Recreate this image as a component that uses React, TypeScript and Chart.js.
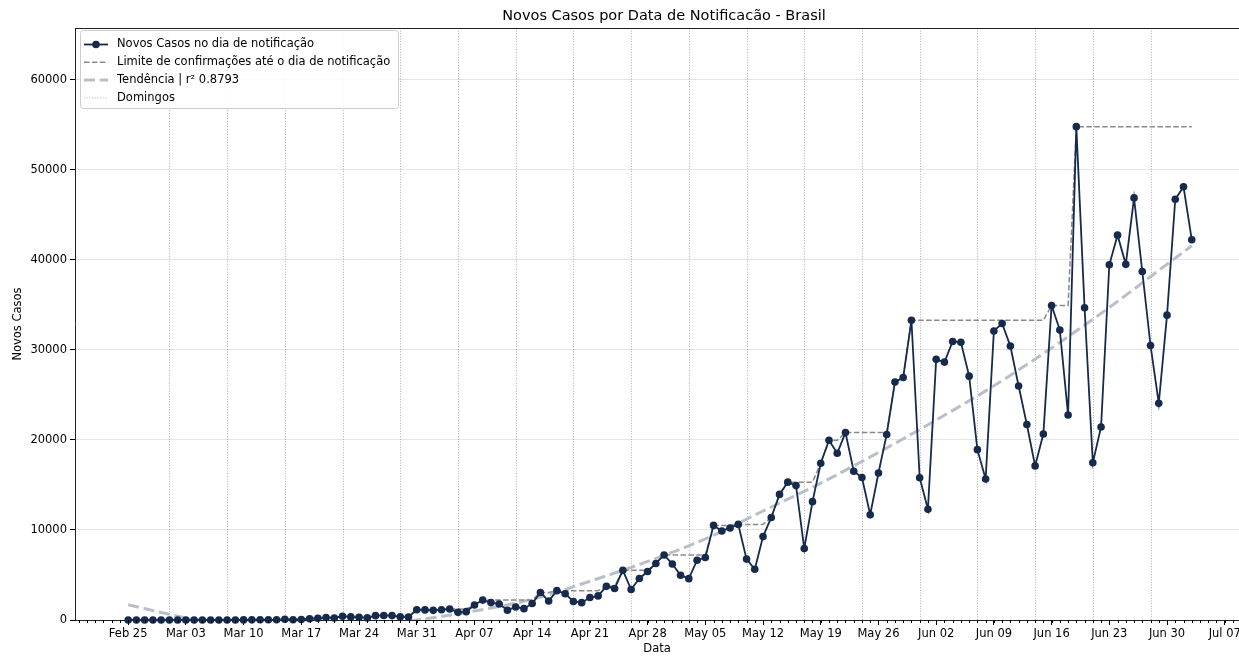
import { useEffect, useRef } from "react";
import { Chart, registerables } from "chart.js";

Chart.register(...registerables);

// ---------- data ----------
const startDate = "2020-02-25";

// New cases per notification day, Feb 25 .. Jul 03 2020 (one value per day)
const newCases: number[] = [
  // Feb 25 - Feb 29
  0, 1, 0, 0, 1,
  // Mar 01 - Mar 31
  0, 0, 0, 1, 5, 5, 6, 6, 0, 9, 18, 25, 21, 23, 79, 34, 57, 137, 193, 283, 224, 418, 345, 310, 232, 482, 502, 487, 352, 323, 1138,
  // Apr 01 - Apr 30
  1119, 1074, 1146, 1222, 852, 926, 1661, 2210, 1930, 1781, 1089, 1442, 1261, 1832, 3058, 2105, 3257, 2917, 2055, 1927, 2498, 2678, 3735, 3503, 5514, 3379, 4613, 5385, 6276, 7218,
  // May 01 - May 31
  6209, 4970, 4588, 6633, 6935, 10503, 9888, 10222, 10611, 6760, 5632, 9258, 11385, 13944, 15305, 14919, 7938, 13140, 17408, 19951, 18508, 20803, 16508, 15813, 11687, 16324, 20599, 26417, 26928, 33274, 15800,
  // Jun 01 - Jun 30
  12300, 28936, 28633, 30925, 30830, 27075, 18912, 15654, 32091, 32913, 30412, 25982, 21704, 17110, 20647, 34918, 32188, 22765, 54771, 34666, 17459, 21432, 39436, 42725, 39483, 46860, 38693, 30476, 24052, 33846,
  // Jul 01 - Jul 03
  46712, 48105, 42223,
];

// Trend curve at a few dates
const trendDates = [
  "2020-02-25", "2020-03-03", "2020-03-10", "2020-03-17", "2020-03-24", "2020-03-31",
  "2020-04-07", "2020-04-14", "2020-04-21", "2020-04-28", "2020-05-05", "2020-05-12",
  "2020-05-19", "2020-05-26", "2020-06-02", "2020-06-09", "2020-06-16", "2020-06-23",
  "2020-06-30", "2020-07-03",
];
const trendValues = [
  1700, 250, -700, -1000, -700, 0,
  1000, 2300, 4300, 6500, 9000, 12100,
  15200, 18600, 22200, 26000, 30200, 34700,
  39500, 41550,
];

const sundays = [
  "2020-03-01", "2020-03-08", "2020-03-15", "2020-03-22", "2020-03-29",
  "2020-04-05", "2020-04-12", "2020-04-19", "2020-04-26",
  "2020-05-03", "2020-05-10", "2020-05-17", "2020-05-24", "2020-05-31",
  "2020-06-07", "2020-06-14", "2020-06-21", "2020-06-28",
];

const xTickLabels = [
  "Feb 25", "Mar 03", "Mar 10", "Mar 17", "Mar 24", "Mar 31", "Apr 07", "Apr 14",
  "Apr 21", "Apr 28", "May 05", "May 12", "May 19", "May 26", "Jun 02", "Jun 09",
  "Jun 16", "Jun 23", "Jun 30", "Jul 07",
];
const yTicks = [0, 10000, 20000, 30000, 40000, 50000, 60000];

const legendLabels = [
  "Novos Casos no dia de notificação",
  "Limite de confirmações até o dia de notificação",
  "Tendência | r² 0.8793",
  "Domingos",
];
const titleText = "Novos Casos por Data de Notificacão - Brasil";
const xTitle = "Data";
const yTitle = "Novos Casos";

// ---------- styles ----------
const FONT = "'DejaVu Sans', 'Liberation Sans', sans-serif";
const NAVY = "#162a4d";
const LIMIT_GRAY = "#8a8a8a";
const TREND = "#b9bfc9";
const SUNDAY = "rgba(150,150,150,0.75)";
const MAIN_DASH: number[] = [];
const LIMIT_DASH = [5.5, 2.4];
const TREND_DASH = [11, 4.8];
const SUNDAY_DASH = [1, 1.65];

function dayIndex(d: string): number {
  const [y, m, dd] = d.split("-").map(Number);
  const [y0, m0, d0] = startDate.split("-").map(Number);
  return Math.round((Date.UTC(y, m - 1, dd) - Date.UTC(y0, m0 - 1, d0)) / 86400000);
}

export default function App() {
  const ref = useRef<HTMLCanvasElement | null>(null);

  useEffect(() => {
    document.body.style.margin = "0";
    const canvas = ref.current;
    if (!canvas) return;

    const mainData = newCases.map((v, i) => ({ x: i, y: v }));
    let running = -Infinity;
    const limitData = newCases.map((v, i) => {
      running = Math.max(running, v);
      return { x: i, y: running };
    });
    const trendData = trendDates.map((d, i) => ({ x: dayIndex(d), y: trendValues[i] }));

    const decor = {
      id: "decor",
      beforeDatasetsDraw(chart: any) {
        const { ctx, chartArea, scales } = chart;
        ctx.save();
        ctx.strokeStyle = SUNDAY;
        ctx.lineWidth = 1;
        ctx.setLineDash(SUNDAY_DASH);
        for (const s of sundays) {
          const x = Math.round(scales.x.getPixelForValue(dayIndex(s))) + 0.5;
          ctx.beginPath();
          ctx.moveTo(x, chartArea.top);
          ctx.lineTo(x, chartArea.bottom);
          ctx.stroke();
        }
        ctx.restore();
      },
      afterDraw(chart: any) {
        const { ctx, chartArea, scales } = chart;
        const xs = scales.x;
        ctx.save();
        // minor daily ticks
        ctx.strokeStyle = "#000";
        ctx.lineWidth = 1;
        for (let d = Math.ceil(xs.min); d <= Math.floor(xs.max); d++) {
          const x = Math.round(xs.getPixelForValue(d)) + 0.5;
          ctx.beginPath();
          ctx.moveTo(x, chartArea.bottom);
          ctx.lineTo(x, chartArea.bottom + 3);
          ctx.stroke();
        }
        // top spine
        ctx.strokeStyle = "#222";
        ctx.beginPath();
        ctx.moveTo(chartArea.left, Math.round(chartArea.top) + 0.5);
        ctx.lineTo(chartArea.right, Math.round(chartArea.top) + 0.5);
        ctx.stroke();

        // title
        ctx.fillStyle = "#000";
        ctx.font = `14.5px ${FONT}`;
        ctx.textAlign = "center";
        ctx.textBaseline = "alphabetic";
        ctx.fillText(titleText, 664, 20);

        // legend
        const bx = 80.5, by = 30.5, bw = 318, bh = 78, r = 3;
        ctx.beginPath();
        ctx.moveTo(bx + r, by);
        ctx.lineTo(bx + bw - r, by);
        ctx.arcTo(bx + bw, by, bx + bw, by + r, r);
        ctx.lineTo(bx + bw, by + bh - r);
        ctx.arcTo(bx + bw, by + bh, bx + bw - r, by + bh, r);
        ctx.lineTo(bx + r, by + bh);
        ctx.arcTo(bx, by + bh, bx, by + bh - r, r);
        ctx.lineTo(bx, by + r);
        ctx.arcTo(bx, by, bx + r, by, r);
        ctx.closePath();
        ctx.fillStyle = "rgba(255,255,255,0.85)";
        ctx.fill();
        ctx.strokeStyle = "#cccccc";
        ctx.lineWidth = 1;
        ctx.stroke();

        const rows = [44.5, 62.3, 80.1, 97.9];
        const hx0 = 84, hx1 = 108;
        const styles = [
          { color: NAVY, width: 1.8, dash: MAIN_DASH },
          { color: LIMIT_GRAY, width: 1.5, dash: LIMIT_DASH },
          { color: TREND, width: 3, dash: TREND_DASH },
          { color: SUNDAY, width: 1, dash: SUNDAY_DASH },
        ];
        styles.forEach((st, i) => {
          const y = rows[i];
          ctx.strokeStyle = st.color;
          ctx.lineWidth = st.width;
          ctx.setLineDash(st.dash);
          ctx.beginPath();
          ctx.moveTo(hx0, y);
          ctx.lineTo(hx1, y);
          ctx.stroke();
        });
        ctx.setLineDash([]);
        ctx.fillStyle = NAVY;
        ctx.beginPath();
        ctx.arc((hx0 + hx1) / 2, rows[0], 3.8, 0, Math.PI * 2);
        ctx.fill();

        ctx.fillStyle = "#000";
        ctx.font = `11.5px ${FONT}`;
        ctx.textAlign = "left";
        ctx.textBaseline = "middle";
        legendLabels.forEach((t, i) => ctx.fillText(t, 117, rows[i]));
        ctx.restore();
      },
    };

    const tickFont = { family: FONT, size: 11.5 };

    const chart = new Chart(canvas, {
      type: "line",
      data: {
        datasets: [
          {
            label: legendLabels[0],
            data: mainData,
            borderColor: NAVY,
            backgroundColor: NAVY,
            borderWidth: 1.8,
            pointRadius: 3.8,
            pointHoverRadius: 3.8,
            pointBorderWidth: 0,
            pointBackgroundColor: NAVY,
            tension: 0,
            order: 0,
            clip: false as any,
          },
          {
            label: legendLabels[1],
            data: limitData,
            borderColor: LIMIT_GRAY,
            borderWidth: 1.5,
            borderDash: LIMIT_DASH,
            pointRadius: 0,
            tension: 0,
            order: 1,
          },
          {
            label: legendLabels[2],
            data: trendData,
            borderColor: TREND,
            borderWidth: 3,
            borderDash: TREND_DASH,
            pointRadius: 0,
            cubicInterpolationMode: "monotone",
            order: 2,
            clip: 0 as any,
          },
        ],
      },
      options: {
        animation: false,
        responsive: false,
        devicePixelRatio: 1,
        layout: { autoPadding: false, padding: { top: 28, left: 0, right: 0, bottom: 0 } },
        plugins: {
          legend: { display: false },
          title: { display: false },
          tooltip: { enabled: false },
        },
        events: [],
        scales: {
          x: {
            type: "linear",
            min: -6.45,
            max: 134.73,
            bounds: "data",
            afterBuildTicks: (s: any) => {
              s.ticks = xTickLabels.map((_, i) => ({ value: i * 7 }));
            },
            afterFit: (s: any) => {
              s.height = 36;
              s.paddingLeft = 0;
              s.paddingRight = 0;
            },
            ticks: {
              autoSkip: false,
              maxRotation: 0,
              minRotation: 0,
              padding: 2,
              color: "#000",
              font: tickFont,
              callback: (_v: any, i: number) => xTickLabels[i] ?? "",
            },
            grid: {
              drawOnChartArea: false,
              drawTicks: true,
              tickLength: 5,
              tickColor: "#000",
              tickWidth: 1,
            },
            border: { display: true, color: "#222", width: 1 },
            title: {
              display: true,
              text: xTitle,
              color: "#000",
              font: tickFont,
              padding: { top: 0, bottom: 0 },
            },
          },
          y: {
            type: "linear",
            min: 0,
            max: 65725,
            bounds: "data",
            afterBuildTicks: (s: any) => {
              s.ticks = yTicks.map((v) => ({ value: v }));
            },
            afterFit: (s: any) => {
              s.width = 75;
              s.paddingTop = 0;
              s.paddingBottom = 0;
            },
            ticks: {
              color: "#000",
              font: tickFont,
              padding: 3,
              callback: (v: any) => String(v),
            },
            grid: {
              color: "#e4e4e4",
              lineWidth: 1,
              drawTicks: true,
              tickLength: 5,
              tickColor: "#000",
            },
            border: { display: true, color: "#222", width: 1 },
            title: {
              display: true,
              text: yTitle,
              color: "#000",
              font: tickFont,
              padding: { top: 11, bottom: 0 },
            },
          },
        },
      } as any,
      plugins: [decor],
    });

    return () => chart.destroy();
  }, []);

  return (
    <div style={{ width: 1239, height: 656, position: "relative", overflow: "hidden" }}>
      <canvas ref={ref} width={1239} height={656} style={{ display: "block", width: 1239, height: 656 }} />
    </div>
  );
}
